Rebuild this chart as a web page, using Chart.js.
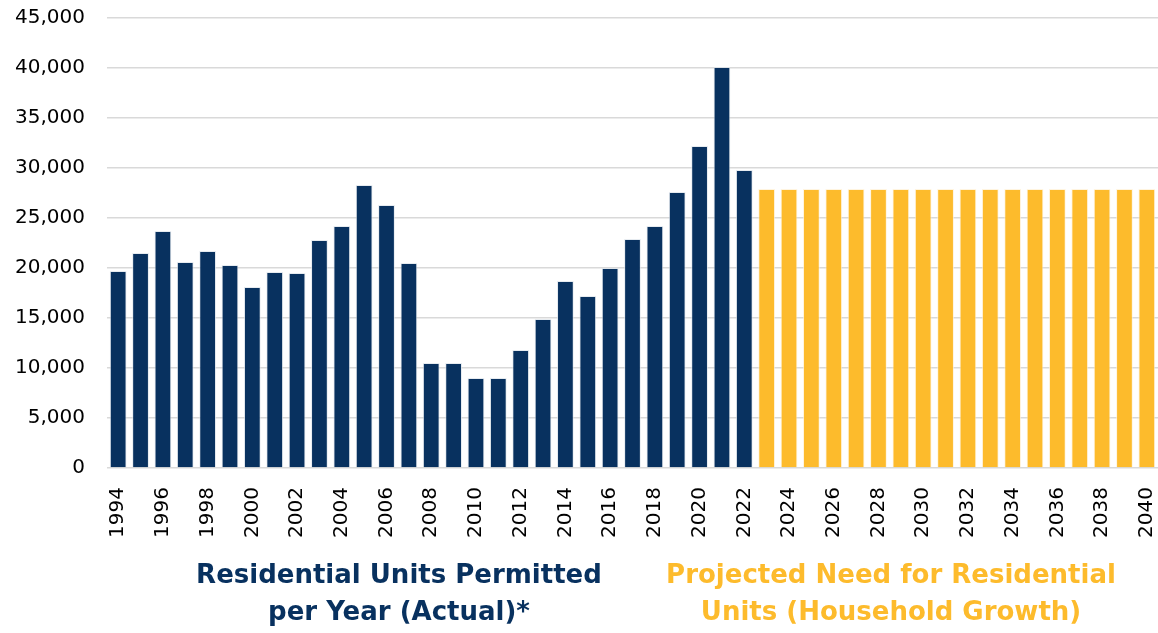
<!DOCTYPE html>
<html lang="en">
<head>
<meta charset="UTF-8">
<title>Residential Units Permitted vs Projected Need</title>
<script src="https://cdn.jsdelivr.net/npm/chart.js"></script>
<style>
  html, body { margin: 0; padding: 0; background: #fff; }
  .wrap { position: relative; width: 1158px; height: 633px; overflow: hidden; }
  .caption {
    position: absolute;
    width: 600px;
    font-family: "DejaVu Sans", sans-serif;
    font-weight: bold;
    font-size: 26px;
    line-height: 37px;
    text-align: center;
    white-space: nowrap;
  }
  #capActual { left: 99px; top: 556px; color: #08315f; }
  #capProjected { left: 591px; top: 556px; color: #fdbb2c; }
</style>
</head>
<body>
<div class="wrap">
  <canvas id="chart" width="1158" height="633"></canvas>
  <div class="caption" id="capActual">Residential Units Permitted<br>per Year (Actual)*</div>
  <div class="caption" id="capProjected">Projected Need for Residential<br>Units (Household Growth)</div>
</div>
<script>
// categories
const years = [
  '1994','1995','1996','1997','1998','1999','2000','2001','2002','2003',
  '2004','2005','2006','2007','2008','2009','2010','2011','2012','2013',
  '2014','2015','2016','2017','2018','2019','2020','2021','2022','2023',
  '2024','2025','2026','2027','2028','2029','2030','2031','2032','2033',
  '2034','2035','2036','2037','2038','2039','2040'
];

// residential units permitted, 1994-2022
const actualUnits = [
  19700, 21500, 23700, 20600, 21700, 20300, 18100, 19600, 19500, 22800,
  24200, 28300, 26300, 20500, 10500, 10500, 9000, 9000, 11800, 14900,
  18700, 17200, 20000, 22900, 24200, 27600, 32200, 40100, 29800
];

// projected need (household growth), 2023-2040
const projectedUnits = [
  27900, 27900, 27900, 27900, 27900, 27900, 27900, 27900, 27900,
  27900, 27900, 27900, 27900, 27900, 27900, 27900, 27900, 27900
];

const yTicks = [0, 5000, 10000, 15000, 20000, 25000, 30000, 35000, 40000, 45000];

const NAVY = '#08315f';
const GOLD = '#fdbb2c';

// pad each series with nulls so both share the same year axis
const actualData = actualUnits.concat(projectedUnits.map(() => null));
const projectedData = actualUnits.map(() => null).concat(projectedUnits);

const tickFont = { family: 'DejaVu Sans', size: 20 };

new Chart(document.getElementById('chart'), {
  type: 'bar',
  data: {
    labels: years,
    datasets: [
      {
        label: 'Residential Units Permitted per Year (Actual)*',
        data: actualData,
        backgroundColor: NAVY,
        borderColor: 'rgba(220,226,234,0.7)',
        borderWidth: 1,
        grouped: false
      },
      {
        label: 'Projected Need for Residential Units (Household Growth)',
        data: projectedData,
        backgroundColor: GOLD,
        borderColor: 'rgba(255,240,210,0.7)',
        borderWidth: 1,
        grouped: false
      }
    ]
  },
  options: {
    responsive: false,
    animation: false,
    devicePixelRatio: 1,
    categoryPercentage: 1,
    barPercentage: 0.75,
    layout: { padding: { top: 18, right: 0, bottom: 0, left: 0 } },
    plugins: {
      legend: { display: false },
      tooltip: { enabled: false }
    },
    scales: {
      x: {
        grid: { display: false, drawTicks: false },
        border: { display: false },
        ticks: {
          autoSkip: false,
          minRotation: 90,
          maxRotation: 90,
          padding: 19,
          color: '#000',
          font: tickFont,
          callback: function(value, index) {
            return index % 2 === 0 ? years[index] : '';
          }
        },
        afterFit: s => {
          s.height = 165;
          s.paddingLeft = 0;
          s.paddingRight = 0;
        }
      },
      y: {
        min: 0,
        max: 45000,
        afterBuildTicks: s => { s.ticks = yTicks.map(v => ({ value: v })); },
        grid: { color: '#d9d9d9', lineWidth: 1.5, drawTicks: false },
        border: { display: false },
        ticks: {
          padding: 22,
          color: '#000',
          font: tickFont,
          callback: v => v.toLocaleString('en-US')
        },
        afterFit: s => {
          s.width = 107;
          s.paddingTop = 0;
          s.paddingBottom = 0;
        }
      }
    }
  }
});
</script>
</body>
</html>
